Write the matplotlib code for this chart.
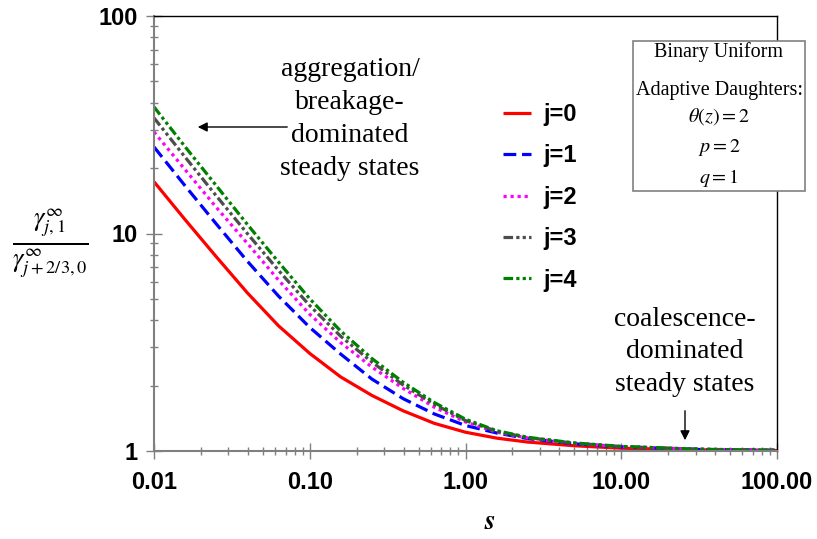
import matplotlib
matplotlib.use("Agg")
import matplotlib.pyplot as plt
from matplotlib.ticker import NullFormatter, LogLocator

s_vals = [0.01, 0.0158, 0.0251, 0.0398, 0.0631, 0.1, 0.158, 0.251, 0.398, 0.631,
          1, 1.585, 2.512, 5.01, 10, 31.6, 100]
j0 = [17.3, 11.6, 7.82, 5.33, 3.76, 2.81, 2.19, 1.80, 1.53, 1.34, 1.22, 1.146, 1.099, 1.057, 1.030, 1.012, 1.005]
j1 = [25.0, 16.6, 11.07, 7.45, 5.15, 3.70, 2.79, 2.14, 1.74, 1.48, 1.31, 1.21, 1.14, 1.079, 1.045, 1.016, 1.007]
j2 = [29.3, 19.7, 13.2, 9.0, 6.1, 4.25, 3.15, 2.43, 1.94, 1.59, 1.36, 1.22, 1.148, 1.084, 1.047, 1.019, 1.007]
j3 = [34.0, 22.5, 14.9, 9.98, 6.76, 4.66, 3.37, 2.56, 2.01, 1.64, 1.38, 1.233, 1.151, 1.086, 1.047, 1.019, 1.007]
j4 = [38.2, 25.1, 16.6, 11.0, 7.38, 5.01, 3.56, 2.66, 2.07, 1.67, 1.40, 1.24, 1.156, 1.089, 1.050, 1.019, 1.007]
labels = ["j=0", "j=1", "j=2", "j=3", "j=4"]
x_ticks = [0.01, 0.1, 1, 10, 100]
x_ticklabels = ["0.01", "0.10", "1.00", "10.00", "100.00"]
y_ticks = [1, 10, 100]
y_ticklabels = ["1", "10", "100"]

plt.rcParams['mathtext.fontset'] = 'stix'

fig = plt.figure(figsize=(8.17, 5.39), dpi=100)
ax = fig.add_axes([154/817, 88/539, 623/817, 435/539])

lw = 2.3
series = [j0, j1, j2, j3, j4]
colors = ["#FF0000", "#0000FF", "#FF00FF", "#4D4D4D", "#008000"]
dashes = [None, (4, 1.8), (1, 1.2), (3, 1, 1, 1, 1, 1), (3, 1, 1, 1, 1, 1)]
for ys, c, d, lab in zip(series, colors, dashes, labels):
    if d is None:
        ax.plot(s_vals, ys, color=c, lw=lw, label=lab, solid_capstyle='butt',
                solid_joinstyle='round')
    else:
        ax.plot(s_vals, ys, color=c, lw=lw, label=lab, dashes=d, dash_capstyle='butt')

ax.set_xscale('log')
ax.set_yscale('log')
ax.set_xlim(0.01, 100)
ax.set_ylim(1, 100)
ax.set_xticks(x_ticks)
ax.set_xticklabels(x_ticklabels)
ax.set_yticks(y_ticks)
ax.set_yticklabels(y_ticklabels)
ax.xaxis.set_minor_locator(LogLocator(base=10, subs=range(2, 10)))
ax.yaxis.set_minor_locator(LogLocator(base=10, subs=range(2, 10)))
ax.xaxis.set_minor_formatter(NullFormatter())
ax.yaxis.set_minor_formatter(NullFormatter())

for lbl in ax.get_xticklabels() + ax.get_yticklabels():
    lbl.set_fontfamily('Liberation Sans')
    lbl.set_fontweight('bold')
    lbl.set_fontsize(17)

ax.tick_params(which='major', direction='inout', length=11, width=1, color='#808080')
ax.tick_params(which='minor', direction='inout', length=6, width=1, color='#808080')
ax.tick_params(axis='x', which='major', pad=9)
ax.tick_params(axis='y', which='major', pad=6)

for side in ['left', 'bottom']:
    ax.spines[side].set_color('#808080')
    ax.spines[side].set_linewidth(1.5)
for side in ['top', 'right']:
    ax.spines[side].set_color('black')
    ax.spines[side].set_linewidth(1.0)

leg = ax.legend(loc='upper left', bbox_to_anchor=(0.56, 0.80), frameon=False,
                prop={'family': 'Liberation Sans', 'weight': 'bold', 'size': 17},
                handlelength=1.2, handletextpad=0.5, labelspacing=0.78, borderpad=0,
                borderaxespad=0)

serif = 'Liberation Serif'
fig.text(350/817, 1 - 119/539, "aggregation/\nbreakage-\ndominated\nsteady states",
         ha='center', va='center', family=serif, fontsize=20, linespacing=1.42)
fig.text(685/817, 1 - 352/539, "coalescence-\ndominated\nsteady states",
         ha='center', va='center', family=serif, fontsize=20, linespacing=1.42)

ax.annotate("", xy=(195/817, 1 - 127/539), xytext=(290/817, 1 - 127/539),
            xycoords='figure fraction', textcoords='figure fraction',
            arrowprops=dict(arrowstyle='-|>', color='black', lw=1, mutation_scale=14))
ax.annotate("", xy=(685/817, 1 - 443/539), xytext=(685/817, 1 - 408/539),
            xycoords='figure fraction', textcoords='figure fraction',
            arrowprops=dict(arrowstyle='-|>', color='black', lw=1, mutation_scale=14))

# parameter box
box_l, box_r, box_t, box_b = 633, 805, 41, 191
rect = plt.Rectangle((box_l/817, 1 - box_b/539), (box_r - box_l)/817, (box_b - box_t)/539,
                     transform=fig.transFigure, facecolor='white', edgecolor='#808080',
                     lw=1.2, zorder=5)
fig.patches.append(rect)
box_lines = [("Binary Uniform", 52), ("Adaptive Daughters:", 90),
             (r"$\theta(z)=2$", 117), (r"$p=2$", 148), (r"$q=1$", 178)]
for txt, yy in box_lines:
    fig.text(719/817, 1 - yy/539, txt, ha='center', va='center', family=serif,
             fontsize=14.5, zorder=6)

fig.text(50/817, 1 - 243/539, r"$\frac{\gamma^{\infty}_{j,1}}{\gamma^{\infty}_{j+2/3,0}}$",
         ha='center', va='center', fontsize=27)
fig.text(490/817, 1 - 521/539, r"$\boldsymbol{s}$", ha='center', va='center', fontsize=20)

fig.savefig("out.png", dpi=100)
